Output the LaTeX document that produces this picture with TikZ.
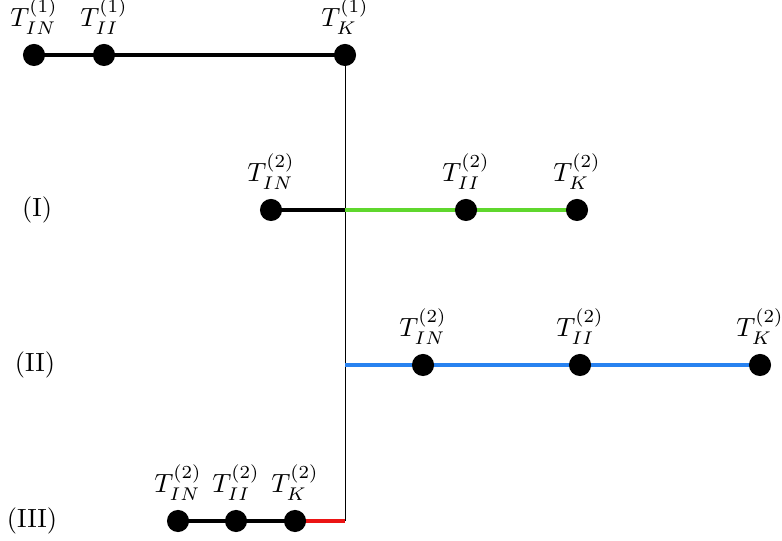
\documentclass[tikz,border=0pt]{standalone}
\usetikzlibrary{positioning,backgrounds}
\definecolor{lgreen}{RGB}{95,215,45}
\definecolor{dgreen}{RGB}{40,110,20}
\definecolor{lblue}{RGB}{40,130,240}
\definecolor{dblue}{RGB}{25,70,150}
\definecolor{lred}{RGB}{235,20,20}
\begin{document}
\begin{tikzpicture}[x=0.38pt,y=-0.38pt,
  dot/.style={circle,fill=black,inner sep=0pt,minimum size=8.4pt},
  tl/.style={label={[label distance=0pt]above:$#1$}},
  seg/.style={line width=1.6pt},
  cseg/.style={line width=0.3pt,draw=#1,double distance=1.2pt},
  stem/.style={line width=0.35pt}]
\useasboundingbox (0,0) rectangle (782,541);
% erste Zeile
\node[dot,tl={T_{IN}^{(1)}}] (in1) at (34,55) {};
\node[dot,tl={T_{II}^{(1)}}] (ii1) at (104,55) {};
\node[dot,tl={T_{K}^{(1)}}] (k1) at (345,55) {};
% Fall (I)
\node at (37,210) {(I)};
\node[dot,tl={T_{IN}^{(2)}}] (inA) at (271,210) {};
\node[dot,tl={T_{II}^{(2)}}] (iiA) at (466,210) {};
\node[dot,tl={T_{K}^{(2)}}] (kA) at (577,210) {};
% Fall (II)
\node at (35,365) {(II)};
\node[dot,tl={T_{IN}^{(2)}}] (inB) at (423,365) {};
\node[dot,tl={T_{II}^{(2)}}] (iiB) at (580,365) {};
\node[dot,tl={T_{K}^{(2)}}] (kB) at (760,365) {};
% Fall (III)
\node at (32,521) {(III)};
\node[dot,tl={T_{IN}^{(2)}}] (inC) at (178,521) {};
\node[dot,tl={T_{II}^{(2)}}] (iiC) at (236,521) {};
\node[dot,tl={T_{K}^{(2)}}] (kC) at (295,521) {};
\coordinate (c1) at (345,210);
\coordinate (c2) at (345,365);
\coordinate (c3) at (345,521);
\begin{scope}[on background layer]
\draw[seg] (in1.center) -- (ii1.center) -- (k1.center);
\draw[stem] (k1.center) -- (c3);
\draw[seg] (inA.center) -- (c1);
\draw[cseg=dgreen,double=lgreen] (c1) -- (iiA.center) -- (kA.center);
\draw[cseg=dblue,double=lblue] (c2) -- (inB.center) -- (iiB.center) -- (kB.center);
\draw[seg] (inC.center) -- (iiC.center) -- (kC.center);
\draw[seg,lred] (kC.center) -- (c3);
\end{scope}
\end{tikzpicture}
\end{document}
